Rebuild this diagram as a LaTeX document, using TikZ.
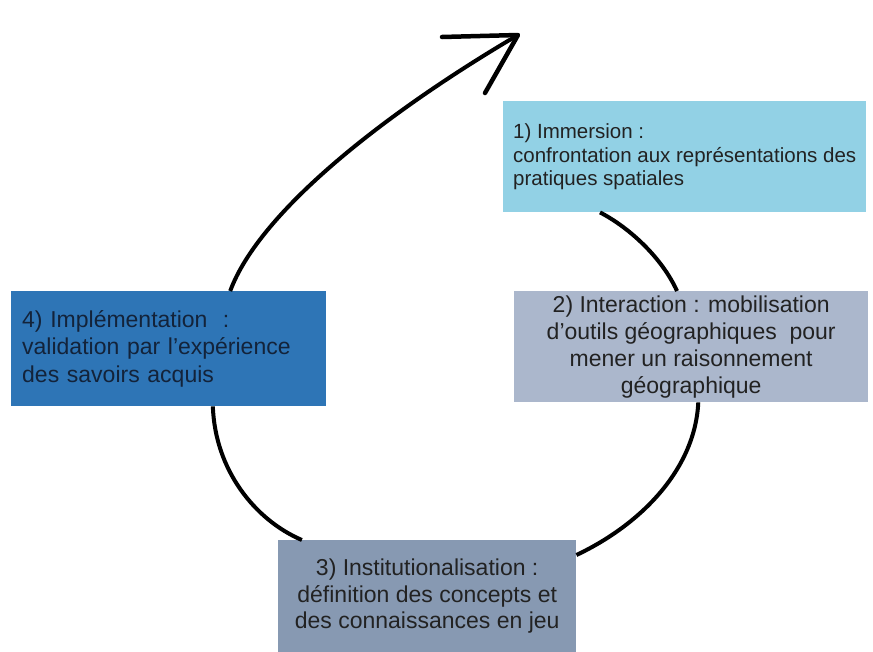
\documentclass[tikz,border=0pt]{standalone}
\usepackage{fontspec}
\setmainfont{Liberation Sans}
\usetikzlibrary{calc}
\definecolor{cone}{HTML}{92D1E5}
\definecolor{ctwo}{HTML}{ABB7CC}
\definecolor{cthree}{HTML}{8799B2}
\definecolor{cfour}{HTML}{2E75B6}
\definecolor{txt}{HTML}{222222}
\definecolor{txtfour}{HTML}{13233A}
\begin{document}
\begin{tikzpicture}[x=1pt,y=-1pt,
  box/.style={draw=none, inner sep=0pt, anchor=north west},
  cyc/.style={line width=4pt, black}]
\useasboundingbox (0,0) rectangle (873,651);
\fill[white] (0,0) rectangle (873,651);

\node[box, fill=cone, minimum width=363pt, minimum height=111pt, align=left, text=txt,
  font=\fontsize{20.5}{23.5}\selectfont] (b1) at (503,101)
  {1) Immersion :\\confrontation aux représentations des\\pratiques spatiales};

\node[box, fill=ctwo, minimum width=354pt, minimum height=111pt, align=center, text=txt,
  font=\fontsize{23}{27}\selectfont] (b2) at (514,291)
  {2) Interaction : mobilisation\\d'outils géographiques\ \ pour\\mener un raisonnement\\géographique};

\node[box, fill=cthree, minimum width=298pt, minimum height=112pt, align=center, text=txt,
  font=\fontsize{23}{26.5}\selectfont] (b3) at (278,540)
  {3) Institutionalisation :\\définition des concepts et\\des connaissances en jeu};

\node[box, fill=cfour, text width=293pt, inner xsep=11pt, minimum height=115pt, align=left, text=txtfour,
  font=\fontsize{23}{27.5}\selectfont] (b4) at (11,291)
  {4) Implémentation\ \ :\\validation par l'expérience\\des savoirs acquis};

\draw[cyc] ($(b1.south west)!0.267!(b1.south east)$) .. controls (630,228) and (662,258) .. ($(b2.north west)!0.46!(b2.north east)$);
\draw[cyc] ($(b2.south west)!0.52!(b2.south east)$) .. controls (695,470) and (640,525) .. ($(b3.north east)+(0,15)$);
\draw[cyc] ($(b3.north west)!0.08!(b3.north east)$) .. controls (255,520) and (215,470) .. ($(b4.south west)!0.64!(b4.south east)$);
\coordinate (tip) at (518,35);
\draw[cyc] ($(b4.north west)!0.695!(b4.north east)$) .. controls (260,210) and (390,110) .. (tip);
\draw[line width=4.5pt, line cap=round, line join=round] (442,37) -- (tip) -- (485,93);
\end{tikzpicture}
\end{document}
